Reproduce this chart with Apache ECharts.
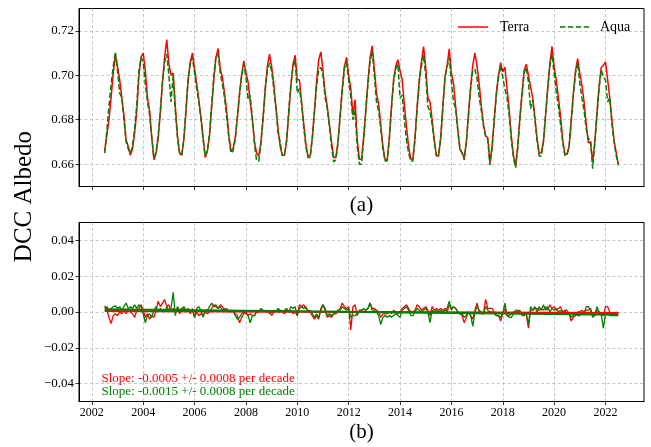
<!DOCTYPE html>
<html>
<head>
<meta charset="utf-8">
<script src="https://cdn.jsdelivr.net/npm/echarts@6/dist/echarts.min.js"></script>
<style>
  html, body { margin: 0; padding: 0; background: #ffffff; }
  #chart { width: 651px; height: 447px; }
</style>
</head>
<body>
<div id="chart"></div>
<script>
// Monthly DCC albedo, July 2002 .. July 2022 (one row per Jul..Jun season)
const startYear = 2002;
const startMonth = 7;

const terra = [
  0.666, 0.673, 0.680, 0.690, 0.701, 0.709, 0.704, 0.698, 0.690, 0.682, 0.671, 0.668,
  0.664, 0.667, 0.674, 0.684, 0.700, 0.708, 0.710, 0.702, 0.690, 0.684, 0.672, 0.662,
  0.665, 0.672, 0.683, 0.697, 0.708, 0.716, 0.705, 0.700, 0.701, 0.686, 0.673, 0.665,
  0.664, 0.671, 0.684, 0.698, 0.706, 0.710, 0.703, 0.696, 0.689, 0.681, 0.672, 0.663,
  0.666, 0.673, 0.686, 0.698, 0.708, 0.712, 0.703, 0.699, 0.692, 0.684, 0.673, 0.666,
  0.667, 0.672, 0.681, 0.692, 0.700, 0.7065, 0.701, 0.697, 0.688, 0.680, 0.670, 0.665,
  0.6637, 0.670, 0.681, 0.694, 0.704, 0.7095, 0.704, 0.696, 0.686, 0.676, 0.668, 0.664,
  0.664, 0.670, 0.683, 0.695, 0.705, 0.709, 0.698, 0.698, 0.688, 0.678, 0.669, 0.6637,
  0.6637, 0.672, 0.684, 0.697, 0.707, 0.7105, 0.702, 0.692, 0.686, 0.678, 0.670, 0.663,
  0.663, 0.670, 0.682, 0.694, 0.704, 0.708, 0.700, 0.694, 0.682, 0.689, 0.671, 0.6623,
  0.6623, 0.672, 0.684, 0.697, 0.708, 0.7132, 0.703, 0.692, 0.687, 0.678, 0.668, 0.662,
  0.662, 0.672, 0.686, 0.698, 0.704, 0.707, 0.702, 0.698, 0.687, 0.677, 0.668, 0.6623,
  0.6623, 0.672, 0.686, 0.698, 0.706, 0.7129, 0.7037, 0.690, 0.688, 0.680, 0.671, 0.6637,
  0.6637, 0.672, 0.686, 0.699, 0.7044, 0.7119, 0.701, 0.6963, 0.686, 0.6756, 0.6667, 0.665,
  0.663, 0.670, 0.683, 0.695, 0.7045, 0.710, 0.704, 0.696, 0.686, 0.678, 0.6726, 0.672,
  0.6607, 0.668, 0.680, 0.692, 0.700, 0.7057, 0.7015, 0.7037, 0.694, 0.6845, 0.6727, 0.664,
  0.6592, 0.668, 0.681, 0.692, 0.7022, 0.705, 0.700, 0.6948, 0.690, 0.681, 0.672, 0.665,
  0.6652, 0.670, 0.682, 0.694, 0.705, 0.713, 0.7037, 0.6978, 0.690, 0.6815, 0.671, 0.6645,
  0.6645, 0.668, 0.680, 0.692, 0.702, 0.7075, 0.7008, 0.6955, 0.688, 0.678, 0.6697, 0.670,
  0.661, 0.670, 0.683, 0.695, 0.7035, 0.7044, 0.706, 0.698, 0.690, 0.680, 0.671, 0.6652,
  0.660
];

const aqua = [
  0.665, 0.675, 0.686, 0.696, 0.704, 0.7105, 0.702, 0.692, 0.690, 0.680, 0.670, 0.667,
  0.665, 0.668, 0.676, 0.687, 0.702, 0.708, 0.706, 0.696, 0.688, 0.682, 0.672, 0.663,
  0.665, 0.673, 0.684, 0.697, 0.706, 0.7095, 0.700, 0.688, 0.700, 0.684, 0.672, 0.665,
  0.664, 0.672, 0.685, 0.699, 0.705, 0.708, 0.701, 0.694, 0.688, 0.680, 0.671, 0.6637,
  0.666, 0.674, 0.687, 0.700, 0.709, 0.7095, 0.701, 0.696, 0.690, 0.681, 0.672, 0.665,
  0.666, 0.671, 0.681, 0.691, 0.700, 0.705, 0.699, 0.689, 0.691, 0.681, 0.669, 0.6615,
  0.6615, 0.669, 0.680, 0.693, 0.702, 0.7055, 0.702, 0.694, 0.685, 0.674, 0.670, 0.664,
  0.664, 0.671, 0.684, 0.696, 0.704, 0.7067, 0.692, 0.694, 0.687, 0.677, 0.668, 0.663,
  0.663, 0.671, 0.683, 0.695, 0.7025, 0.7035, 0.700, 0.690, 0.685, 0.677, 0.668, 0.661,
  0.662, 0.669, 0.681, 0.693, 0.703, 0.7057, 0.698, 0.690, 0.680, 0.684, 0.668, 0.660,
  0.660, 0.671, 0.684, 0.696, 0.706, 0.711, 0.700, 0.688, 0.684, 0.676, 0.667, 0.6615,
  0.6615, 0.671, 0.685, 0.697, 0.703, 0.705, 0.6897, 0.6911, 0.680, 0.671, 0.665, 0.6615,
  0.6615, 0.671, 0.685, 0.697, 0.704, 0.709, 0.700, 0.686, 0.6837, 0.678, 0.670, 0.664,
  0.664, 0.671, 0.685, 0.699, 0.7037, 0.708, 0.697, 0.688, 0.685, 0.675, 0.667, 0.665,
  0.662, 0.670, 0.682, 0.694, 0.702, 0.7027, 0.6985, 0.690, 0.684, 0.677, 0.6727, 0.671,
  0.6597, 0.667, 0.679, 0.691, 0.699, 0.7043, 0.699, 0.694, 0.690, 0.682, 0.671, 0.663,
  0.6585, 0.667, 0.680, 0.691, 0.701, 0.7035, 0.697, 0.685, 0.689, 0.680, 0.671, 0.6637,
  0.6637, 0.670, 0.682, 0.694, 0.704, 0.7095, 0.7008, 0.6926, 0.686, 0.678, 0.670, 0.664,
  0.664, 0.668, 0.679, 0.691, 0.701, 0.7057, 0.6963, 0.6897, 0.684, 0.676, 0.6712, 0.6712,
  0.658, 0.669, 0.682, 0.694, 0.7022, 0.6995, 0.6978, 0.688, 0.690, 0.678, 0.670, 0.664,
  0.6595
];

// Deseasonalised anomalies, same months
const terraAnom = [
  0.0034, 0.001, -0.003, -0.0064, -0.002, -0.001, -0.002, 0.000, -0.001, 0.001, -0.001, 0.001,
  0.000, -0.001, -0.003, 0.001, 0.002, 0.004, 0.001, -0.003, -0.001, -0.004, -0.002, -0.003,
  0.001, 0.006, 0.003, 0.005, 0.007, 0.003, 0.004, 0.000, 0.002, 0.001, 0.002, -0.001,
  0.001, 0.002, 0.000, 0.001, -0.001, 0.002, -0.003, 0.000, -0.002, -0.001, -0.002, 0.000,
  -0.001, 0.000, 0.002, 0.004, 0.003, 0.002, 0.004, 0.003, 0.001, 0.002, 0.000, 0.001,
  0.000, -0.001, -0.002, -0.006, -0.003, -0.001, 0.000, -0.002, -0.001, -0.002, -0.002, 0.000,
  0.000, 0.001, 0.000, 0.001, 0.000, 0.001, -0.002, 0.000, 0.001, 0.000, 0.001, 0.000,
  -0.001, 0.001, 0.000, 0.001, -0.001, 0.000, -0.002, 0.004, 0.003, 0.004, 0.002, 0.001,
  0.000, -0.002, -0.004, -0.002, -0.004, 0.002, 0.004, 0.001, -0.003, -0.002, -0.003, -0.001,
  -0.001, 0.000, 0.002, 0.005, 0.003, 0.002, 0.003, -0.010, 0.003, 0.004, -0.002, 0.001,
  0.001, 0.000, 0.001, 0.002, 0.005, 0.002, 0.002, 0.001, 0.000, -0.003, -0.001, -0.001,
  -0.001, 0.000, -0.001, 0.001, 0.000, -0.001, 0.000, 0.002, 0.003, 0.004, 0.002, 0.000,
  0.000, 0.001, 0.004, 0.003, 0.001, 0.002, 0.003, 0.001, -0.002, 0.003, 0.001, 0.002,
  0.001, 0.002, 0.001, 0.002, 0.000, 0.004, 0.002, 0.003, 0.002, 0.000, -0.001, -0.002,
  -0.006, -0.003, 0.000, -0.002, -0.004, 0.001, 0.005, 0.000, -0.001, -0.001, 0.007, 0.002,
  0.002, 0.002, 0.000, -0.002, -0.002, -0.005, -0.001, 0.002, -0.002, -0.002, -0.001, 0.000,
  0.000, 0.000, 0.001, -0.002, -0.002, -0.001, -0.009, 0.001, 0.001, 0.002, 0.002, 0.001,
  0.002, 0.001, 0.003, 0.001, 0.004, 0.002, 0.003, 0.001, 0.002, 0.003, 0.000, 0.001,
  0.001, -0.001, -0.005, -0.003, -0.002, 0.000, 0.000, 0.001, 0.000, 0.001, 0.001, 0.002,
  -0.002, -0.002, 0.001, 0.000, -0.001, -0.002, 0.003, 0.003, 0.000, -0.002, -0.001, 0.000,
  -0.001
];

const aquaAnom = [
  0.002, 0.003, 0.001, 0.002, 0.003, 0.0035, 0.002, 0.003, 0.001, 0.003, 0.005, 0.002,
  0.003, 0.002, 0.004, 0.002, 0.004, 0.003, -0.001, -0.006, -0.002, -0.001, -0.003, 0.001,
  0.003, 0.000, 0.002, 0.001, 0.000, 0.003, 0.001, 0.002, 0.011, -0.002, 0.003, 0.001,
  0.002, 0.003, 0.001, 0.002, 0.000, 0.001, -0.003, 0.002, 0.003, 0.001, -0.003, 0.001,
  0.001, 0.003, 0.005, 0.003, 0.004, 0.002, 0.003, 0.001, 0.002, 0.000, 0.001, 0.000,
  0.001, -0.002, -0.004, -0.003, -0.001, 0.000, -0.001, -0.002, -0.006, -0.002, -0.002, 0.001,
  0.000, 0.002, 0.001, 0.000, 0.001, -0.001, 0.000, 0.001, 0.000, 0.002, 0.001, 0.000,
  0.001, 0.002, 0.000, 0.003, 0.002, 0.003, -0.002, 0.002, 0.003, 0.002, 0.003, 0.000,
  0.001, -0.001, -0.003, -0.001, -0.003, 0.001, 0.004, 0.002, -0.002, -0.001, -0.002, -0.001,
  0.000, 0.001, 0.001, 0.003, 0.002, 0.001, 0.002, -0.003, -0.002, -0.002, -0.001, 0.000,
  0.001, 0.002, 0.001, 0.002, 0.005, 0.001, 0.001, 0.000, -0.002, -0.007, -0.003, -0.002,
  -0.003, -0.002, -0.003, -0.002, -0.001, -0.002, -0.003, 0.001, 0.002, 0.003, 0.001, -0.002,
  -0.002, 0.000, 0.002, 0.001, 0.000, 0.001, 0.002, 0.000, -0.006, 0.001, 0.000, 0.001,
  0.000, 0.001, 0.000, 0.001, 0.002, 0.006, 0.001, 0.003, 0.002, 0.000, -0.001, -0.001,
  -0.003, -0.002, 0.000, -0.002, -0.008, 0.000, 0.003, 0.001, 0.000, -0.001, 0.003, 0.001,
  0.000, 0.000, -0.001, -0.002, -0.002, -0.003, -0.001, 0.005, -0.002, -0.003, -0.003, -0.001,
  0.001, 0.001, 0.000, -0.001, -0.001, -0.001, -0.007, 0.003, 0.001, 0.003, 0.000, 0.003,
  0.001, 0.004, 0.001, 0.003, 0.000, 0.002, 0.001, 0.002, 0.000, 0.001, -0.001, 0.001,
  -0.001, -0.001, -0.003, -0.002, -0.001, -0.002, -0.002, 0.000, -0.001, 0.003, 0.003, 0.001,
  -0.003, -0.002, 0.003, 0.000, -0.001, -0.009, -0.001, -0.001, -0.002, -0.002, -0.002, -0.002,
  -0.002
];

// Linear trends over the record
const trendYears = [2002.5, 2022.5];
const terraTrend = [0.0005, -0.0005];
const aquaTrend = [0.0015, -0.0015];

const yearTicks = [2002, 2004, 2006, 2008, 2010, 2012, 2014, 2016, 2018, 2020, 2022];
const albedoTicks = [0.66, 0.68, 0.70, 0.72];
const anomTicks = [-0.04, -0.02, 0.00, 0.02, 0.04];

const terraSlopeText = 'Slope: -0.0005 +/- 0.0008 per decade';
const aquaSlopeText = 'Slope: -0.0015 +/- 0.0008 per decade';

const RED = '#ff0000';
const GREEN = '#008000';
const FONT = '"Liberation Serif", "Times New Roman", serif';

function monthTime(i) {
  return startYear + (startMonth - 1) / 12 + i / 12;
}
function pairs(arr) {
  return arr.map((v, i) => [monthTime(i), v]);
}
function fmt(v) {
  return v.toFixed(2).replace('-', '\u2212');
}

const gridLine = { show: true, lineStyle: { color: '#b9b9b9', type: [3, 2.5], width: 0.8 } };

function xAxisFor(gridIndex, showLabels) {
  return {
    type: 'value', gridIndex: gridIndex, min: 2001.5, max: 2023.5,
    axisLine: { show: true, onZero: false, lineStyle: { color: '#000', width: 1 } },
    axisTick: { show: true, inside: false, length: 3.5, customValues: yearTicks, lineStyle: { color: '#000', width: 0.8 } },
    axisLabel: { show: showLabels, customValues: yearTicks, color: '#000', fontSize: 12, fontFamily: FONT, margin: 5, formatter: v => String(Math.round(v)) },
    splitLine: gridLine
  };
}
function yAxisFor(gridIndex, min, max, ticks) {
  return {
    type: 'value', gridIndex: gridIndex, min: min, max: max,
    axisLine: { show: true, onZero: false, lineStyle: { color: '#000', width: 1 } },
    axisTick: { show: true, inside: false, length: 3.5, customValues: ticks, lineStyle: { color: '#000', width: 0.8 } },
    axisLabel: { show: true, customValues: ticks, color: '#000', fontSize: 13, fontFamily: FONT, margin: 5, formatter: fmt },
    splitLine: gridLine
  };
}

const chart = echarts.init(document.getElementById('chart'), null, { renderer: 'canvas' });

chart.setOption({
  animation: false,
  backgroundColor: '#ffffff',
  grid: [
    { left: 79, top: 8.5, width: 565, height: 178, show: true, borderColor: '#000', borderWidth: 1, containLabel: false, outerBoundsMode: 'none' },
    { left: 79, top: 222.5, width: 565, height: 179, show: true, borderColor: '#000', borderWidth: 1, containLabel: false, outerBoundsMode: 'none' }
  ],
  xAxis: [xAxisFor(0, false), xAxisFor(1, true)],
  yAxis: [yAxisFor(0, 0.65, 0.73, albedoTicks), yAxisFor(1, -0.05, 0.05, anomTicks)],
  series: [
    { name: 'Terra', type: 'line', xAxisIndex: 0, yAxisIndex: 0, data: pairs(terra), symbol: 'none', showSymbol: false,
      lineStyle: { color: RED, width: 1.5 }, itemStyle: { color: RED }, z: 3 },
    { name: 'Aqua', type: 'line', xAxisIndex: 0, yAxisIndex: 0, data: pairs(aqua), symbol: 'none', showSymbol: false,
      lineStyle: { color: GREEN, width: 1.5, type: [5.5, 2.4] }, itemStyle: { color: GREEN }, z: 4 },
    { name: 'Terra anomaly', type: 'line', xAxisIndex: 1, yAxisIndex: 1, data: pairs(terraAnom), symbol: 'none', showSymbol: false,
      lineStyle: { color: RED, width: 1.3 }, z: 3 },
    { name: 'Aqua anomaly', type: 'line', xAxisIndex: 1, yAxisIndex: 1, data: pairs(aquaAnom), symbol: 'none', showSymbol: false,
      lineStyle: { color: GREEN, width: 1.3 }, z: 4 },
    { name: 'Terra trend', type: 'line', xAxisIndex: 1, yAxisIndex: 1, data: trendYears.map((t, i) => [t, terraTrend[i]]), symbol: 'none', showSymbol: false,
      lineStyle: { color: RED, width: 2 }, z: 5 },
    { name: 'Aqua trend', type: 'line', xAxisIndex: 1, yAxisIndex: 1, data: trendYears.map((t, i) => [t, aquaTrend[i]]), symbol: 'none', showSymbol: false,
      lineStyle: { color: GREEN, width: 2 }, z: 6 }
  ],
  graphic: [
    // legend
    { type: 'line', shape: { x1: 458, y1: 27, x2: 488, y2: 27 }, style: { stroke: RED, lineWidth: 1.5 }, z: 10 },
    { type: 'text', x: 500, y: 27, style: { text: 'Terra', font: '14px ' + FONT, fill: '#000', textVerticalAlign: 'middle', verticalAlign: 'middle' }, z: 10 },
    { type: 'line', shape: { x1: 560, y1: 27, x2: 590, y2: 27 }, style: { stroke: GREEN, lineWidth: 1.5, lineDash: [5.5, 2.4] }, z: 10 },
    { type: 'text', x: 600, y: 27, style: { text: 'Aqua', font: '14px ' + FONT, fill: '#000', textVerticalAlign: 'middle', verticalAlign: 'middle' }, z: 10 },
    // panel captions
    { type: 'text', x: 361.5, y: 205, style: { text: '(a)', font: '21px ' + FONT, fill: '#000', align: 'center', textAlign: 'center', verticalAlign: 'middle', textVerticalAlign: 'middle' } },
    { type: 'text', x: 361.5, y: 432, style: { text: '(b)', font: '21px ' + FONT, fill: '#000', align: 'center', textAlign: 'center', verticalAlign: 'middle', textVerticalAlign: 'middle' } },
    // shared y label
    { type: 'text', x: 24, y: 196.5, rotation: Math.PI / 2, style: { text: 'DCC Albedo', font: '25px ' + FONT, fill: '#000', align: 'center', textAlign: 'center', verticalAlign: 'middle', textVerticalAlign: 'middle' } },
    // trend annotations
    { type: 'text', x: 101.5, y: 379, style: { text: terraSlopeText, font: '13px ' + FONT, fill: RED, verticalAlign: 'middle', textVerticalAlign: 'middle' }, z: 10 },
    { type: 'text', x: 101.5, y: 391.5, style: { text: aquaSlopeText, font: '13px ' + FONT, fill: GREEN, verticalAlign: 'middle', textVerticalAlign: 'middle' }, z: 10 }
  ]
});
</script>
</body>
</html>
